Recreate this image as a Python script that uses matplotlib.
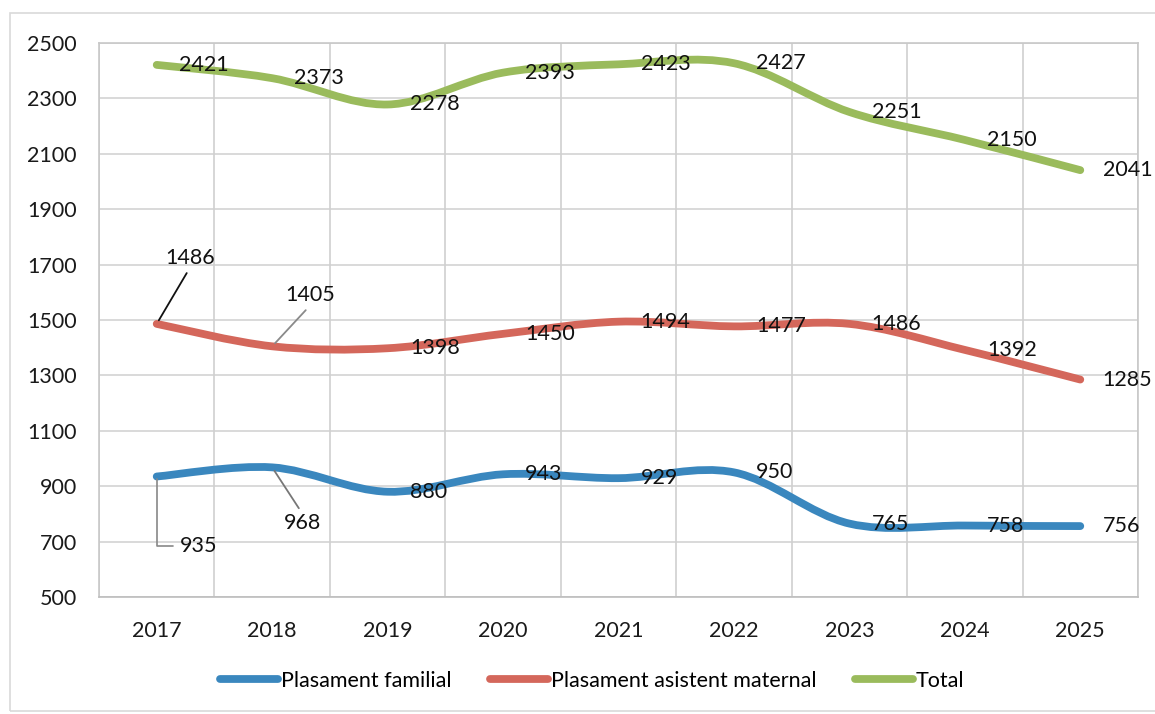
import matplotlib
matplotlib.use("Agg")
import matplotlib.pyplot as plt
from matplotlib.path import Path
from matplotlib.patches import PathPatch, Rectangle
from matplotlib.lines import Line2D

plt.rcParams['font.family'] = ['Lato', 'DejaVu Sans']

years = ["2017", "2018", "2019", "2020", "2021", "2022", "2023", "2024", "2025"]
familial = [935, 968, 880, 943, 929, 950, 765, 758, 756]
asistent = [1486, 1405, 1398, 1450, 1494, 1477, 1486, 1392, 1285]
total = [2421, 2373, 2278, 2393, 2423, 2427, 2251, 2150, 2041]
series_names = ["Plasament familial", "Plasament asistent maternal", "Total"]
colors = ["#3A87BE", "#D4675B", "#9ABB5C"]
yticks = [500, 700, 900, 1100, 1300, 1500, 1700, 1900, 2100, 2300, 2500]

FS = 15.5

fig = plt.figure(figsize=(11.55, 7.14), dpi=100)
ax = fig.add_axes([99/1155, 1-597/714, (1138-99)/1155, (597-43)/714])

# outer chart border (right side runs past the image edge)
fig.patches.append(Rectangle((10/1155, 1-711/714), 1160/1155, 698/714,
                             transform=fig.transFigure, fill=False,
                             edgecolor="#D9D9D9", lw=1.2))

x = list(range(len(years)))
ax.set_xlim(-0.5, len(years) - 0.5)
ax.set_ylim(500, 2500)
ax.set_yticks(yticks)
ax.set_xticks(x)
ax.set_xticklabels(years)
for v in yticks:
    ax.axhline(v, color="#D3D3D3", lw=1.2, zorder=0)
for k in range(len(years) + 1):
    ax.axvline(k - 0.5, color="#D0D0D0", lw=1.2, zorder=0)
for s in ax.spines.values():
    s.set_color("#C8C8C8")
    s.set_linewidth(1.2)
ax.spines['bottom'].set_color("#BDBDBD")
ax.tick_params(length=0, labelsize=FS, colors="#1a1a1a")
ax.tick_params(axis='y', pad=16)
ax.tick_params(axis='x', pad=17)


def smooth_path(xs, ys):
    pts = list(zip(xs, ys))
    n = len(pts)
    verts = [pts[0]]
    codes = [Path.MOVETO]
    for i in range(n - 1):
        p0 = pts[i - 1] if i > 0 else pts[i]
        p1 = pts[i]
        p2 = pts[i + 1]
        p3 = pts[i + 2] if i + 2 < n else pts[i + 1]
        c1 = (p1[0] + (p2[0] - p0[0]) / 6, p1[1] + (p2[1] - p0[1]) / 6)
        c2 = (p2[0] - (p3[0] - p1[0]) / 6, p2[1] - (p3[1] - p1[1]) / 6)
        verts += [c1, c2, p2]
        codes += [Path.CURVE4] * 3
    return Path(verts, codes)


for vals, col in zip([familial, asistent, total], colors):
    patch = PathPatch(smooth_path(x, vals), fill=False, edgecolor=col,
                      lw=5.6, capstyle='round', joinstyle='round', zorder=3)
    ax.add_patch(patch)

# data labels
special = {
    (1, 0): dict(off=(23.8, 47.5), rel=(0.5, 0), col="#111111"),
    (1, 1): dict(off=(27.4, 36.7), rel=(0.5, 0), col="#8a8a8a"),
    (0, 1): dict(off=(21.6, -40.3), rel=(0.5, 1), col="#777777"),
}
for si, vals in enumerate([familial, asistent, total]):
    for i, v in enumerate(vals):
        key = (si, i)
        if si == 0 and i == 0:
            ax.annotate(str(v), xy=(i, v), xytext=(30, -50), textcoords="offset points",
                        ha="center", va="center", fontsize=FS, color="#111111", zorder=5,
                        arrowprops=dict(arrowstyle="-", color="#888888", lw=1.2,
                                        connectionstyle="angle,angleA=0,angleB=90,rad=0",
                                        relpos=(0, 0.5), shrinkA=3, shrinkB=2))
        elif key in special:
            sp = special[key]
            ax.annotate(str(v), xy=(i, v), xytext=sp["off"], textcoords="offset points",
                        ha="center", va="center", fontsize=FS, color="#111111", zorder=5,
                        arrowprops=dict(arrowstyle="-", color=sp["col"], lw=1.3,
                                        relpos=sp["rel"], shrinkA=2, shrinkB=3))
        else:
            ax.annotate(str(v), xy=(i, v), xytext=(16, 0), textcoords="offset points",
                        ha="left", va="center", fontsize=FS, color="#111111", zorder=5)

handles = [Line2D([0], [0], color=c, lw=5.6, solid_capstyle='round') for c in colors]
fig.legend(handles, series_names, loc="center", bbox_to_anchor=(592/1155, 1-681/714),
           ncol=3, frameon=False, fontsize=FS, handlelength=2.7, handletextpad=0.12,
           columnspacing=1.8)

fig.savefig("out.png", dpi=100, facecolor="white")
